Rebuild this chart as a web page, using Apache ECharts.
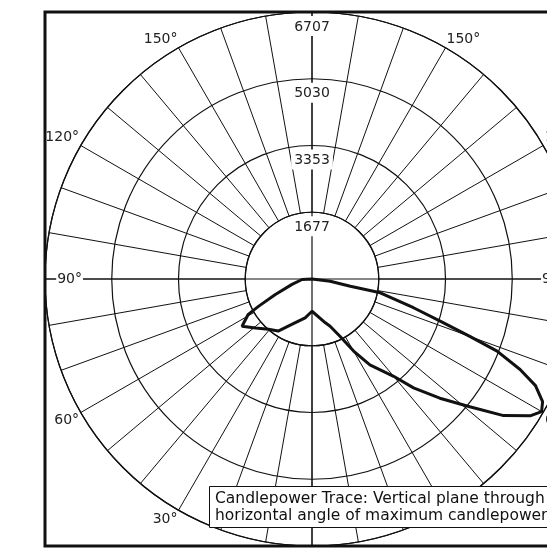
<!DOCTYPE html>
<html>
<head>
<meta charset="utf-8">
<script src="https://cdn.jsdelivr.net/npm/echarts@6/dist/echarts.min.js"></script>
<style>
  html, body { margin: 0; padding: 0; background: #fff; }
  #main { width: 547px; height: 551px; }
</style>
</head>
<body>
<div id="main"></div>
<script>
// candela rings and their labels
const ringValues = [1677, 3353, 5030, 6707];
const ringLabels = ['1677', '3353', '5030', '6707'];
// vertical angles that get a label (measured from nadir, both sides)
const angleLabelValues = [30, 60, 120, 150];
const sideLabelText = '90°';

// trace: angle on the axis (0 = nadir, 90 = left, 180 = up, 270 = right), candela
const traceAngle   = [90, 87, 75, 67, 63, 61, 56, 49, 41, 33, 24, 10, 0,
                      343, 339, 334, 330, 326, 320, 317, 313, 309, 305.5, 302, 300,
                      298, 295.5, 293.5, 291.3, 290, 288.2, 285.8, 281.4, 280.6, 277, 270];
const traceCandela = [0, 250, 520, 1000, 1500, 1830, 2120, 1880, 1670, 1560, 1250, 990, 810,
                      1150, 1270, 1600, 2090, 2600, 3190, 3740, 4390, 5100, 5910, 6480, 6660,
                      6560, 6220, 5700, 4990, 4230, 3390, 2650, 1750, 980, 460, 0];

const caption = 'Candlepower Trace: Vertical plane through\nhorizontal angle of maximum candlepower';

const CX = 312, CY = 279, R = 267;
const FONT = 'DejaVu Sans';
const INK = '#111';

let myChart = echarts.init(document.getElementById('main'));

const maxCd = ringValues[ringValues.length - 1];

let option = {
    backgroundColor: '#fff',
    animation: false,
    title: {
        text: caption,
        left: 209,
        top: 486,
        backgroundColor: '#fff',
        borderColor: INK,
        borderWidth: 1,
        padding: [4, 6, 4, 6],
        z: 8,
        textStyle: { fontFamily: FONT, fontSize: 15.5, fontWeight: 'normal', color: INK, lineHeight: 17 }
    },
    polar: [
        // grid donut: rings + 10 degree spokes outside the first ring
        { center: [CX, CY], radius: [R * ringValues[0] / maxCd, R] },
        // data + crosshair
        { center: [CX, CY], radius: [0, R] },
        // labels (radius axis pointing up)
        { center: [CX, CY], radius: [0, R] }
    ],
    angleAxis: [
        {
            polarIndex: 0, type: 'value', min: 0, max: 360, interval: 10,
            startAngle: 270, clockwise: true,
            axisLine: { lineStyle: { color: INK, width: 1.2 } },
            axisTick: { show: false },
            splitLine: { lineStyle: { color: INK, width: 1 } },
            axisLabel: {
                margin: 2, fontFamily: FONT, fontSize: 14, color: '#222',
                formatter: function (v) {
                    const d = v <= 180 ? v : 360 - v;
                    return angleLabelValues.indexOf(d) >= 0 ? d + '°' : '';
                }
            }
        },
        {
            polarIndex: 1, type: 'value', min: 0, max: 360, interval: 90,
            startAngle: 270, clockwise: true,
            axisLine: { show: false },
            axisTick: { show: false },
            axisLabel: { show: false },
            splitLine: { show: true, lineStyle: { color: INK, width: 1.2 } }
        },
        {
            polarIndex: 2, type: 'value', min: 0, max: 360, interval: 90,
            startAngle: 90, clockwise: true, z: 5,
            axisLine: { show: false },
            axisTick: { show: false },
            splitLine: { show: false },
            axisLabel: {
                margin: -38, fontFamily: FONT, fontSize: 14, color: '#222',
                backgroundColor: '#fff', padding: [0, 1, 0, 1],
                formatter: function (v) { return (v === 90 || v === 270) ? sideLabelText : ''; }
            }
        }
    ],
    radiusAxis: [
        {
            polarIndex: 0, type: 'value', min: ringValues[0], max: maxCd,
            interval: (maxCd - ringValues[0]) / 3,
            axisLine: { show: false },
            axisTick: { show: false },
            axisLabel: { show: false },
            splitLine: { show: true, lineStyle: { color: INK, width: 1.2 } }
        },
        {
            polarIndex: 1, type: 'value', min: 0, max: maxCd,
            axisLine: { show: false }, axisTick: { show: false },
            axisLabel: { show: false }, splitLine: { show: false }
        },
        {
            polarIndex: 2, type: 'value', min: 0, max: maxCd, interval: maxCd / 4, z: 5,
            axisLine: { show: false },
            axisTick: { show: false },
            splitLine: { show: false },
            axisLabel: {
                margin: 0, align: 'center', verticalAlign: 'top',
                padding: [4, 0, 0, 0],
                showMinLabel: false,
                formatter: function (v) {
                    const i = Math.round(v / (maxCd / 4)) - 1;
                    return i >= 0 ? '{t|' + ringLabels[i] + '}' : '';
                },
                rich: {
                    t: {
                        fontFamily: FONT, fontSize: 14, color: '#222',
                        backgroundColor: '#fff', padding: [4, 3, 2, 3]
                    }
                }
            }
        }
    ],
    graphic: [{
        type: 'rect', z: 20,
        shape: { x: CX - R, y: CY - R, width: 2 * R, height: 2 * R },
        style: { fill: 'none', stroke: INK, lineWidth: 3 }
    }],
    series: [{
        name: 'Candlepower',
        type: 'line',
        coordinateSystem: 'polar',
        polarIndex: 1,
        z: 10,
        symbol: 'none',
        smooth: false,
        lineStyle: { color: INK, width: 3 },
        data: traceCandela.map((c, i) => [c, traceAngle[i]])
    }]
};

myChart.setOption(option);
</script>
</body>
</html>
